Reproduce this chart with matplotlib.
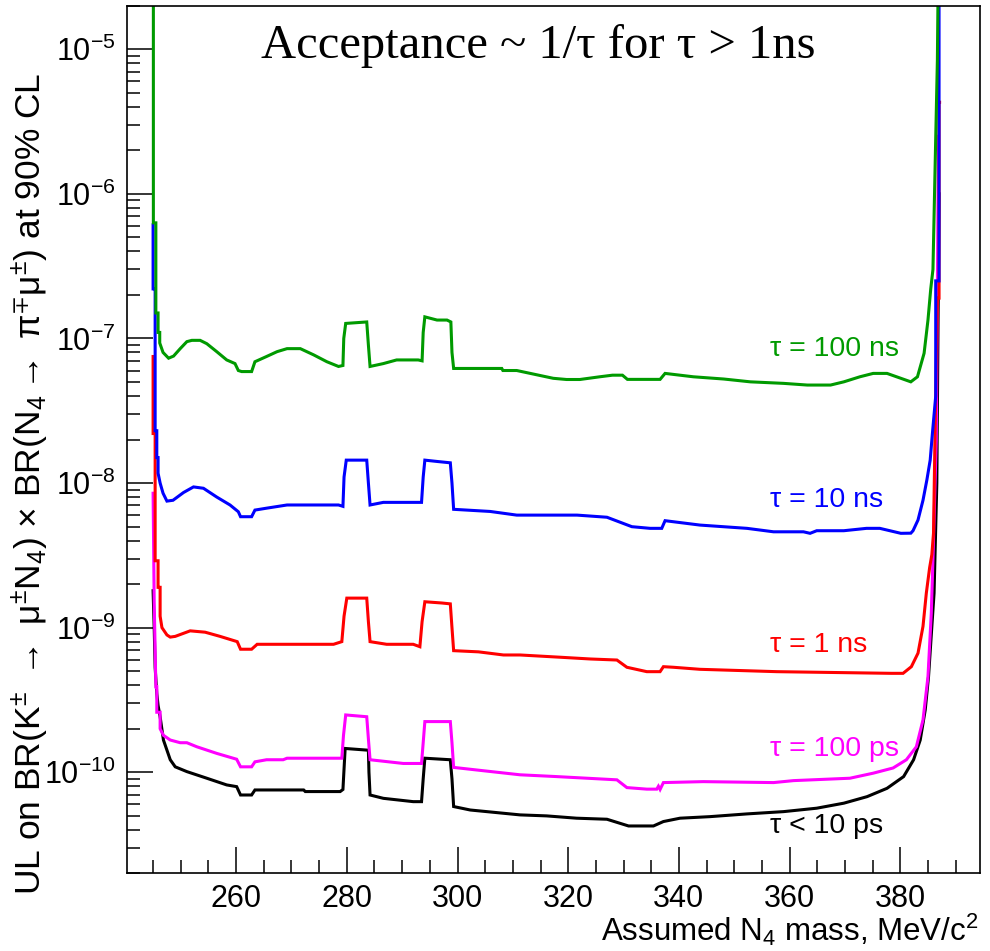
import numpy as np
import matplotlib
matplotlib.use("Agg")
import matplotlib.pyplot as plt
from matplotlib.ticker import FixedLocator, LogLocator, NullFormatter

plt.rcParams['font.family'] = ['Liberation Sans', 'DejaVu Sans']
plt.rcParams['mathtext.fontset'] = 'custom'
plt.rcParams['mathtext.rm'] = 'Liberation Sans'
plt.rcParams['mathtext.it'] = 'Liberation Sans:italic'
plt.rcParams['mathtext.default'] = 'regular'

# ---------------- data ----------------
labels = ["τ = 100 ns", "τ = 10 ns", "τ = 1 ns", "τ = 100 ps", "τ < 10 ps"]
colors = ["#009a00", "#0000ff", "#ff0000", "#ff00ff", "#000000"]

mass_green = [245.05, 245.05, 245.5, 245.5, 245.9, 245.9, 246.2, 246.2, 246.8, 247.8,
              248.7, 249.9, 251.1, 252.0, 253.5, 254.7, 256.5, 258.3, 259.8, 260.4,
              261.0, 262.8, 263.4, 265.5, 267.4, 269.2, 271.6, 274.0, 276.4, 278.5,
              279.3, 279.45, 279.8, 283.6, 283.9, 284.2, 286.6, 289.0, 292.9, 293.6,
              293.8, 294.1, 296.3, 298.1, 298.8, 299.0, 299.3, 308.0, 308.2, 310.7,
              317.3, 319.7, 322.1, 325.7, 328.0, 329.8, 330.7, 336.6, 337.5, 342.6,
              348.1, 352.9, 358.9, 363.2, 367.4, 369.8, 372.7, 375.1, 377.6, 380.1,
              381.9, 383.1, 384.3, 385.0, 385.5, 385.9, 386.2, 386.7, 386.9]
ul_green = [5e-5, 6.3e-7, 6.3e-7, 1.5e-7, 1.5e-7, 1.1e-7, 1.1e-7, 9.3e-8, 8.0e-8, 7.3e-8,
            7.55e-8, 8.5e-8, 9.5e-8, 9.7e-8, 9.7e-8, 9.2e-8, 8.1e-8, 7.1e-8, 6.7e-8, 6.0e-8,
            5.9e-8, 5.9e-8, 6.9e-8, 7.5e-8, 8.1e-8, 8.5e-8, 8.5e-8, 7.7e-8, 6.9e-8, 6.4e-8,
            6.5e-8, 1.0e-7, 1.27e-7, 1.30e-7, 9.0e-8, 6.4e-8, 6.7e-8, 7.1e-8, 7.1e-8, 7.0e-8,
            1.1e-7, 1.41e-7, 1.34e-7, 1.34e-7, 1.30e-7, 8.0e-8, 6.2e-8, 6.2e-8, 6.0e-8, 6.0e-8,
            5.3e-8, 5.2e-8, 5.2e-8, 5.43e-8, 5.57e-8, 5.57e-8, 5.21e-8, 5.21e-8, 5.73e-8, 5.43e-8,
            5.24e-8, 5.01e-8, 4.89e-8, 4.76e-8, 4.76e-8, 5.01e-8, 5.43e-8, 5.73e-8, 5.73e-8, 5.30e-8,
            5.01e-8, 5.43e-8, 7.9e-8, 1.34e-7, 2.2e-7, 3.0e-7, 1.06e-6, 8.4e-6, 5e-5]

mass_blue = [245.0, 245.0, 245.37, 245.37, 245.67, 245.67, 245.9, 245.9, 246.27, 246.8,
             247.5, 248.6, 250.5, 252.3, 254.1, 256.5, 258.9, 260.4, 260.8, 262.8,
             263.4, 265.5, 269.2, 278.5, 279.3, 279.5, 279.9, 283.6, 283.9, 284.2,
             286.6, 293.5, 293.8, 294.1, 296.3, 298.7, 299.0, 299.3, 305.9, 310.7,
             321.6, 327.0, 331.5, 334.8, 336.9, 337.5, 343.8, 352.3, 357.1, 362.5,
             363.7, 364.9, 369.8, 373.9, 376.3, 380.1, 381.9, 382.3, 383.2, 384.1,
             384.8, 385.4, 385.8, 386.4, 386.4, 387.0, 387.0]
ul_blue = [6.1e-7, 2.2e-7, 2.2e-7, 2.3e-8, 2.3e-8, 1.5e-8, 1.5e-8, 1.17e-8, 1.0e-8, 8.5e-9,
           7.5e-9, 7.6e-9, 8.6e-9, 9.4e-9, 9.2e-9, 8.0e-9, 7.05e-9, 6.33e-9, 5.85e-9, 5.85e-9,
           6.5e-9, 6.7e-9, 7.05e-9, 7.05e-9, 6.9e-9, 1.1e-8, 1.44e-8, 1.44e-8, 1.0e-8, 7.05e-9,
           7.35e-9, 7.35e-9, 1.1e-8, 1.44e-8, 1.41e-8, 1.38e-8, 1.0e-8, 6.58e-9, 6.36e-9, 6.0e-9,
           6.0e-9, 5.8e-9, 4.99e-9, 4.86e-9, 4.86e-9, 5.49e-9, 5.12e-9, 4.86e-9, 4.6e-9, 4.6e-9,
           4.49e-9, 4.68e-9, 4.68e-9, 4.86e-9, 4.86e-9, 4.49e-9, 4.5e-9, 4.68e-9, 5.55e-9, 7.6e-9,
           1.05e-8, 1.44e-8, 2.2e-8, 4.0e-8, 2.5e-7, 2.5e-7, 5e-5]

mass_red = [245.0, 245.0, 245.37, 245.37, 245.9, 245.9, 246.27, 246.27, 246.6, 247.5,
            248.1, 249.0, 251.7, 254.4, 257.1, 260.2, 260.8, 262.8, 263.8, 277.6,
            279.1, 279.5, 280.0, 283.6, 283.9, 284.2, 287.2, 292.0, 293.2, 293.6,
            294.1, 297.2, 298.7, 299.0, 299.3, 303.8, 308.3, 311.3, 318.6, 324.0,
            328.8, 330.6, 334.2, 336.6, 337.2, 339.0, 343.8, 357.7, 378.4, 380.5,
            382.0, 383.2, 384.1, 384.7, 385.3, 385.7, 386.0, 386.3, 386.7, 387.0,
            387.0, 387.1]
ul_red = [7.5e-8, 2.2e-8, 2.2e-8, 2.9e-9, 2.9e-9, 1.9e-9, 1.9e-9, 1.2e-9, 1.0e-9, 8.9e-10,
          8.6e-10, 8.7e-10, 9.5e-10, 9.3e-10, 8.7e-10, 8.0e-10, 7.09e-10, 7.09e-10, 7.67e-10, 7.67e-10,
          8.0e-10, 1.2e-9, 1.6e-9, 1.6e-9, 1.1e-9, 8.0e-10, 7.67e-10, 7.67e-10, 7.38e-10, 1.1e-9,
          1.51e-9, 1.48e-9, 1.46e-9, 1.0e-9, 6.93e-10, 6.8e-10, 6.47e-10, 6.47e-10, 6.24e-10, 6.07e-10,
          5.97e-10, 5.32e-10, 4.96e-10, 4.96e-10, 5.37e-10, 5.32e-10, 5.15e-10, 4.96e-10, 4.83e-10, 4.83e-10,
          5.37e-10, 6.66e-10, 1.02e-9, 1.73e-9, 2.6e-9, 3.2e-9, 4.5e-9, 2.5e-8, 1.9e-7, 1.9e-7,
          4.3e-6, 4.3e-6]

mass_magenta = [245.0, 245.2, 245.5, 245.67, 245.67, 246.27, 246.27, 246.87, 248.1, 249.9,
                251.1, 252.9, 256.5, 260.1, 260.8, 262.8, 263.4, 265.5, 268.5, 269.2,
                279.1, 279.4, 279.8, 283.6, 283.9, 284.2, 290.2, 293.5, 293.8, 294.1,
                298.7, 299.0, 299.3, 304.1, 311.3, 317.9, 323.4, 328.8, 330.6, 334.2,
                336.0, 336.3, 336.6, 337.2, 344.4, 357.1, 360.7, 370.9, 375.1, 378.7,
                381.1, 382.9, 384.1, 385.0, 385.6, 385.9, 386.5, 386.9]
ul_magenta = [8.5e-9, 1.5e-9, 3.9e-10, 3.9e-10, 2.6e-10, 2.6e-10, 2.0e-10, 1.8e-10, 1.67e-10, 1.6e-10,
              1.6e-10, 1.5e-10, 1.35e-10, 1.23e-10, 1.09e-10, 1.09e-10, 1.18e-10, 1.22e-10, 1.22e-10, 1.25e-10,
              1.25e-10, 1.8e-10, 2.49e-10, 2.42e-10, 1.7e-10, 1.22e-10, 1.15e-10, 1.15e-10, 1.6e-10, 2.24e-10,
              2.24e-10, 1.6e-10, 1.08e-10, 1.03e-10, 9.6e-11, 9.33e-11, 9.09e-11, 8.86e-11, 7.83e-11, 7.64e-11,
              7.64e-11, 8.0e-11, 7.6e-11, 8.48e-11, 8.61e-11, 8.48e-11, 8.75e-11, 9.09e-11, 9.85e-11, 1.07e-10,
              1.22e-10, 1.50e-10, 2.30e-10, 4.58e-10, 1.26e-9, 2.94e-9, 2.0e-8, 2.5e-6]

mass_black = [245.0, 245.2, 245.37, 245.67, 245.9, 246.27, 246.87, 248.1, 249.0, 251.1,
              254.7, 258.3, 260.1, 260.8, 262.8, 263.4, 272.2, 272.5, 278.8, 279.3,
              279.7, 283.9, 284.0, 284.2, 286.6, 292.0, 293.5, 293.8, 294.1, 298.7,
              299.0, 299.3, 302.3, 311.3, 316.1, 321.5, 327.0, 330.9, 335.4, 337.2,
              340.2, 345.6, 352.3, 358.9, 364.9, 369.8, 374.0, 377.6, 380.6, 382.4,
              383.6, 384.5, 385.1, 385.7, 386.1, 386.6, 387.0]
ul_black = [1.8e-9, 1.0e-9, 5.3e-10, 3.5e-10, 2.9e-10, 2.42e-10, 1.67e-10, 1.22e-10, 1.09e-10, 1.01e-10,
            9.09e-11, 8.17e-11, 7.95e-11, 6.96e-11, 6.96e-11, 7.54e-11, 7.54e-11, 7.35e-11, 7.35e-11, 7.6e-11,
            1.46e-10, 1.42e-10, 1.0e-10, 6.96e-11, 6.60e-11, 6.26e-11, 6.26e-11, 9.0e-11, 1.25e-10, 1.22e-10,
            9.0e-11, 5.79e-11, 5.48e-11, 5.07e-11, 4.99e-11, 4.81e-11, 4.73e-11, 4.25e-11, 4.25e-11, 4.56e-11,
            4.81e-11, 4.93e-11, 5.15e-11, 5.34e-11, 5.64e-11, 6.11e-11, 6.78e-11, 7.74e-11, 9.33e-11, 1.22e-10,
            1.67e-10, 2.69e-10, 4.58e-10, 1.02e-9, 1.73e-9, 1.0e-8, 1.0e-6]

x_major = [260, 280, 300, 320, 340, 360, 380]
y_decades = [-10, -9, -8, -7, -6, -5]

# label anchor values (y, in data units) for the lifetime annotations
label_mass = 356.5
label_y = [8.44e-8, 7.62e-9, 7.58e-10, 1.45e-10, 4.26e-11]

# ---------------- figure ----------------
fig = plt.figure(figsize=(9.90, 9.51), dpi=100)
ax = fig.add_axes([0.1278, 0.0817, 0.9899 - 0.1278, 0.994 - 0.0817])

series = [(mass_black, ul_black, colors[4]),
          (mass_magenta, ul_magenta, colors[3]),
          (mass_red, ul_red, colors[2]),
          (mass_blue, ul_blue, colors[1]),
          (mass_green, ul_green, colors[0])]
for m, v, c in series:
    ax.plot(m, v, color=c, lw=2.2, solid_joinstyle='miter', clip_on=True)

ax.set_yscale('log')
ax.set_xlim(240.2, 394.4)
ax.set_ylim(2e-11, 2e-5)

ax.xaxis.set_major_locator(FixedLocator(x_major))
ax.xaxis.set_minor_locator(FixedLocator(np.arange(245, 395, 5)))
ax.set_xticklabels([str(v) for v in x_major])
ax.yaxis.set_major_locator(FixedLocator([10.0 ** d for d in y_decades]))
ax.set_yticklabels([r"10$^{%d}$" % d for d in y_decades])
ax.yaxis.set_minor_locator(LogLocator(base=10, subs=np.arange(2, 10)))
ax.yaxis.set_minor_formatter(NullFormatter())

ax.tick_params(which='both', direction='in', top=False, right=False, width=1.1,
               labelsize=22, colors='black')
ax.tick_params(which='major', length=19, pad=8)
ax.tick_params(which='minor', length=9.5)
for s in ax.spines.values():
    s.set_linewidth(1.2)

for txt, yv, c in zip(labels, label_y, colors):
    ax.text(label_mass, yv, txt, color=c, fontsize=20.5, va='center', ha='left')

fig.text(0.5435, 0.952, "Acceptance ~ 1/τ for τ > 1ns", fontsize=35,
         family=['Liberation Serif', 'DejaVu Serif'], ha='center', va='center')

fig.text(0.988, 1 - 941 / 951, r"Assumed N$_{4}$ mass, MeV/c$^{2}$", fontsize=22.5,
         ha='right', va='baseline')
fig.text(30 / 990, 1 - 484 / 951,
         r"UL on BR(K$^{\pm}$ $\rightarrow$ $\mu^{\pm}$N$_{4}$) $\times$ BR(N$_{4}$$\rightarrow$ $\pi^{\mp}\mu^{\pm}$) at 90% CL",
         fontsize=25.5, rotation=90, ha='center', va='center')

fig.savefig("out.png", dpi=100)
